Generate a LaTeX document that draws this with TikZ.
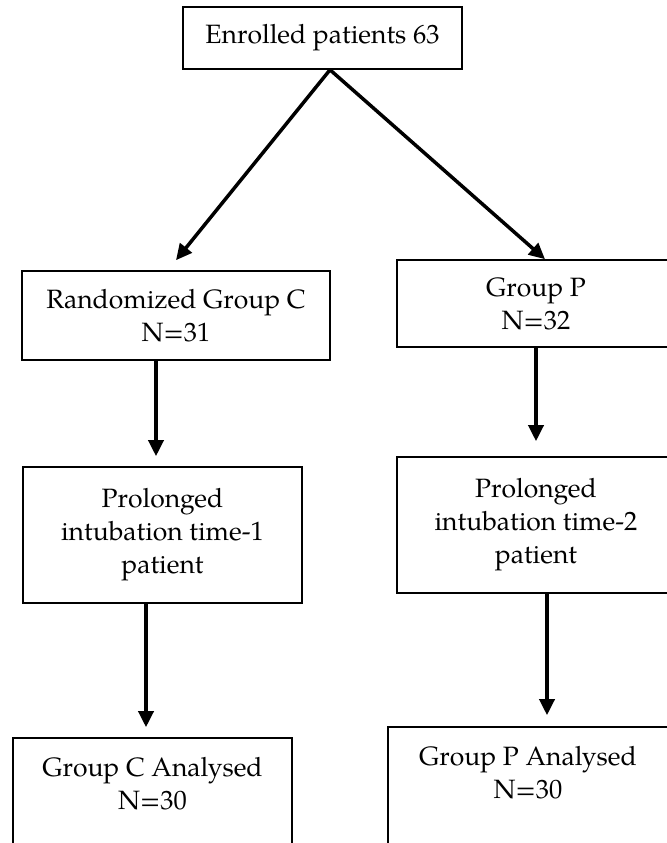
\documentclass[tikz,border=0pt]{standalone}
\usepackage{fontspec}
\setmainfont{TeX Gyre Pagella}
\usetikzlibrary{arrows.meta}
\begin{document}
\begin{tikzpicture}[x=1bp,y=-1bp,
  box/.style={draw, line width=1.6bp, inner sep=0pt, align=center,
    font=\fontsize{26.5bp}{33bp}\selectfont},
  txt/.style={inner sep=0pt, align=center, font=\fontsize{26.5bp}{33bp}\selectfont},
  arr/.style={line width=3.5bp, -{Triangle[length=16bp,width=15bp]}}]
\useasboundingbox (0,0) rectangle (667,843);
\clip (0,0) rectangle (667,843);
\fill[white] (0,0) rectangle (667,843);
\node[box, minimum width=279bp, minimum height=62bp] (top) at (322.5,38) {Enrolled patients 63};
\node[box, minimum width=308bp, minimum height=89bp] (rC) at (176,315.5) {Randomized Group C\\N=31};
\node[box, minimum width=278bp, minimum height=87bp] (rP) at (536,303.5) {Group P\\N=32};
\node[box, minimum width=279bp, minimum height=136bp] (pC) at (162.5,535) {Prolonged\\intubation time-1\\patient};
\node[box, minimum width=278bp, minimum height=136bp] (pP) at (536,525) {Prolonged\\intubation time-2\\patient};
\node[box, minimum width=279bp, minimum height=144bp] (aC) at (152.5,810) {};
\node[txt] (aCt) at (152.5,784) {Group C Analysed\\N=30};
\node[box, minimum width=280bp, minimum height=144bp] (aP) at (528,799) {};
\node[txt] (aPt) at (528,773) {Group P Analysed\\N=30};
\draw[arr] ([xshift=7.5bp]top.south) -- ([yshift=10bp]rC.north);
\draw[arr] ([xshift=7.5bp]top.south) -- ([xshift=9bp]rP.north);
\draw[arr] ([xshift=-20bp]rC.south) -- ([xshift=-20bp,yshift=10bp]rC.south |- pC.north);
\draw[arr] (rP.south) -- ([yshift=15bp]pP.north);
\draw[arr] ([xshift=-16.5bp]pC.south) -- ([xshift=-16.5bp,yshift=10bp]pC.south |- aC.north);
\draw[arr] ([xshift=11bp]pP.south) -- ([xshift=11bp,yshift=11bp]pP.south |- aP.north);
\end{tikzpicture}
\end{document}
